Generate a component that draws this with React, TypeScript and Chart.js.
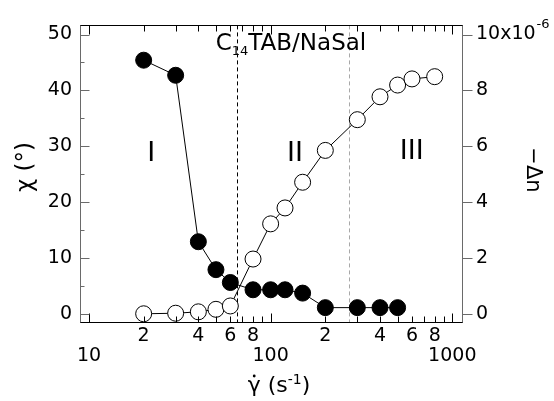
import React, { useEffect, useRef } from 'react';
import { Chart, registerables } from 'chart.js';

Chart.register(...registerables);

// ---- data ----
const chiRates = [20, 30, 40, 50, 60, 80, 100, 120, 150, 200, 300, 400, 500];
const chiValues = [45.4, 42.7, 12.9, 7.9, 5.6, 4.3, 4.3, 4.3, 3.7, 1.1, 1.1, 1.1, 1.1];
const dnRates = [20, 30, 40, 50, 60, 80, 100, 120, 150, 200, 300, 400, 500, 600, 800];
const dnValues = [0.0, 0.02, 0.07, 0.16, 0.28, 1.96, 3.22, 3.79, 4.71, 5.85, 6.95, 7.77, 8.19, 8.41, 8.49]; // x 1e-6

const xTickValues = [10, 20, 30, 40, 50, 60, 70, 80, 90, 100, 200, 300, 400, 500, 600, 700, 800, 900, 1000];
const xMinorLabelDigits = [2, 4, 6, 8];
const leftTickValues = [0, 5, 10, 15, 20, 25, 30, 35, 40, 45, 50];
const rightTickValues = [0, 2, 4, 6, 8, 10];
const regionBounds = [65.5, 271];
const regionLabels = ['I', 'II', 'III'];
const regionLabelX = [22, 136, 598];
const regionLabelY = [28.6, 28.6, 28.9];
const titleText = ['C', '14', 'TAB/NaSal'];

const FONT = 'DejaVu Sans';
const AXIS_GRAY = '#6a6a6a';

const isPow10 = (v: number) => Math.abs(Math.log10(v) - Math.round(Math.log10(v))) < 1e-9;

const decor = {
  id: 'decor',
  beforeDatasetsDraw(chart: any) {
    const { ctx, chartArea: a, scales } = chart;
    const x = scales.x;
    ctx.save();
    ctx.lineWidth = 1;
    ctx.setLineDash([4, 3]);
    regionBounds.forEach((v, i) => {
      const px = Math.round(x.getPixelForValue(v)) + 0.5;
      ctx.strokeStyle = i === 0 ? '#000' : '#a8a8a8';
      ctx.beginPath();
      ctx.moveTo(px, a.top);
      ctx.lineTo(px, a.bottom);
      ctx.stroke();
    });
    ctx.restore();
  },
  afterDraw(chart: any) {
    const { ctx, chartArea: a, scales } = chart;
    const x = scales.x, y = scales.y, y2 = scales.y2;
    ctx.save();
    ctx.lineWidth = 1;
    ctx.setLineDash([]);
    const top = Math.round(a.top) + 0.5;
    const bot = Math.round(a.bottom) - 0.5;
    const left = Math.round(a.left) + 0.5;
    const right = Math.round(a.right) + 0.5;

    // spines
    ctx.strokeStyle = '#000';
    ctx.beginPath();
    ctx.moveTo(left - 0.5, top); ctx.lineTo(right + 0.5, top);
    ctx.moveTo(left - 0.5, bot); ctx.lineTo(right + 0.5, bot);
    ctx.stroke();
    ctx.strokeStyle = AXIS_GRAY;
    ctx.beginPath();
    ctx.moveTo(left, top); ctx.lineTo(left, bot);
    ctx.moveTo(right, top); ctx.lineTo(right, bot);
    ctx.stroke();

    // x ticks (bottom + mirrored top, inward)
    ctx.strokeStyle = '#000';
    ctx.beginPath();
    x.ticks.forEach((t: any) => {
      const px = Math.round(x.getPixelForValue(t.value)) + 0.5;
      const len = isPow10(t.value) ? 9 : 6;
      ctx.moveTo(px, bot); ctx.lineTo(px, bot - len);
      ctx.moveTo(px, top); ctx.lineTo(px, top + len);
    });
    ctx.stroke();

    // left ticks (inward)
    ctx.strokeStyle = AXIS_GRAY;
    ctx.beginPath();
    y.ticks.forEach((t: any) => {
      const py = Math.round(y.getPixelForValue(t.value)) + 0.5;
      const len = t.value % 10 === 0 ? 9 : 4;
      ctx.moveTo(left, py); ctx.lineTo(left + len, py);
    });
    // right ticks (outward)
    y2.ticks.forEach((t: any) => {
      const py = Math.round(y2.getPixelForValue(t.value)) + 0.5;
      ctx.moveTo(right, py); ctx.lineTo(right + 10, py);
    });
    ctx.stroke();

    ctx.fillStyle = '#000';
    // superscript on right top label
    ctx.font = `19px ${FONT}`;
    const w10 = ctx.measureText('10x10').width;
    const pyTop = y2.getPixelForValue(10);
    ctx.font = `13px ${FONT}`;
    ctx.textAlign = 'left';
    ctx.textBaseline = 'middle';
    ctx.fillText('-6', y2.left + 14 + w10 + 1, pyTop - 10);

    // region labels
    ctx.font = `27px ${FONT}`;
    ctx.textAlign = 'center';
    ctx.textBaseline = 'middle';
    regionLabels.forEach((s, i) => {
      ctx.fillText(s, x.getPixelForValue(regionLabelX[i]), y.getPixelForValue(regionLabelY[i]));
    });

    // title C14TAB/NaSal
    ctx.textAlign = 'left';
    ctx.textBaseline = 'alphabetic';
    ctx.font = `23px ${FONT}`;
    const wC = ctx.measureText(titleText[0]).width;
    const wRest = ctx.measureText(titleText[2]).width;
    ctx.font = `13px ${FONT}`;
    const wSub = ctx.measureText(titleText[1]).width;
    let tx = 291 - (wC + wSub + wRest) / 2;
    ctx.font = `23px ${FONT}`;
    ctx.fillText(titleText[0], tx, 49.5);
    tx += wC;
    ctx.font = `13px ${FONT}`;
    ctx.fillText(titleText[1], tx, 55);
    tx += wSub;
    ctx.font = `23px ${FONT}`;
    ctx.fillText(titleText[2], tx, 49.5);

    // bottom axis title: gamma-dot (s^-1)
    ctx.font = `22px ${FONT}`;
    const wG = ctx.measureText('\u03b3').width;
    const wS = ctx.measureText(' (s').width;
    const wP = ctx.measureText(')').width;
    ctx.font = `14px ${FONT}`;
    const wSup = ctx.measureText('-1').width;
    let bx = 279 - (wG + wS + wSup + wP) / 2;
    const base = 392;
    ctx.font = `22px ${FONT}`;
    ctx.fillText('\u03b3', bx, base);
    ctx.beginPath();
    ctx.arc(bx + wG / 2, base - 16, 1.4, 0, Math.PI * 2);
    ctx.fill();
    bx += wG;
    ctx.fillText(' (s', bx, base);
    bx += wS;
    ctx.font = `14px ${FONT}`;
    ctx.fillText('-1', bx, base - 8);
    bx += wSup;
    ctx.font = `22px ${FONT}`;
    ctx.fillText(')', bx, base);

    // left axis title
    ctx.save();
    ctx.translate(26, 167);
    ctx.rotate(-Math.PI / 2);
    ctx.font = `23px ${FONT}`;
    ctx.textAlign = 'center';
    ctx.textBaseline = 'middle';
    ctx.fillText('\u03c7 (\u00b0)', 0, 0);
    ctx.restore();

    // right axis title
    ctx.save();
    ctx.translate(532, 170);
    ctx.rotate(Math.PI / 2);
    ctx.font = `21px ${FONT}`;
    ctx.textAlign = 'center';
    ctx.textBaseline = 'middle';
    ctx.fillText('\u2212\u0394n', 0, 0);
    ctx.restore();

    ctx.restore();
  },
};

export default function App() {
  const ref = useRef<HTMLCanvasElement | null>(null);
  useEffect(() => {
    if (!ref.current) return;
    const chiPts = chiRates.map((r, i) => ({ x: r, y: chiValues[i] }));
    const dnPts = dnRates.map((r, i) => ({ x: r, y: dnValues[i] }));
    const chart = new Chart(ref.current, {
      type: 'scatter',
      data: {
        datasets: [
          {
            label: 'chi',
            data: chiPts,
            yAxisID: 'y',
            showLine: true,
            borderColor: '#000',
            borderWidth: 1,
            pointRadius: 8,
            pointBackgroundColor: '#000',
            pointBorderColor: '#000',
            pointBorderWidth: 1,
          },
          {
            label: 'dn',
            data: dnPts,
            yAxisID: 'y2',
            showLine: true,
            borderColor: '#000',
            borderWidth: 1,
            pointRadius: 8,
            pointBackgroundColor: '#fff',
            pointBorderColor: '#000',
            pointBorderWidth: 1,
          },
          {
            label: 'dn-center',
            data: dnPts,
            yAxisID: 'y2',
            showLine: false,
            pointRadius: 0.7,
            pointBorderWidth: 0,
            pointBackgroundColor: '#777',
          },
        ],
      } as any,
      options: {
        responsive: false,
        animation: false,
        layout: { padding: { top: 22, left: 0, right: 0, bottom: 0 } },
        plugins: { legend: { display: false }, tooltip: { enabled: false } },
        scales: {
          x: {
            type: 'logarithmic',
            position: 'bottom',
            min: 8.924,
            max: 1131,
            grid: { display: false, drawTicks: false },
            border: { display: false },
            afterBuildTicks: (s: any) => {
              s.ticks = xTickValues.map((v) => ({ value: v, major: isPow10(v) }));
            },
            afterFit: (s: any) => {
              s.height = 78;
            },
            ticks: {
              autoSkip: false,
              maxRotation: 0,
              minRotation: 0,
              padding: 3,
              color: '#000',
              font: { family: FONT, size: 19, lineHeight: 1.05 },
              callback: (v: any) => {
                const val = Number(v);
                if (isPow10(val)) return ['', String(Math.round(val))];
                const d = Math.round(val / Math.pow(10, Math.floor(Math.log10(val) + 1e-9)));
                return xMinorLabelDigits.includes(d) ? String(d) : '';
              },
            },
          },
          y: {
            type: 'linear',
            position: 'left',
            min: -1.65,
            max: 51.63,
            grid: { display: false, drawTicks: false },
            border: { display: false },
            afterBuildTicks: (s: any) => {
              s.ticks = leftTickValues.map((v) => ({ value: v }));
            },
            afterFit: (s: any) => {
              s.width = 80;
            },
            ticks: {
              padding: 8,
              color: '#000',
              font: { family: FONT, size: 19 },
              callback: (v: any) => (Number(v) % 10 === 0 ? String(v) : ''),
            },
          },
          y2: {
            type: 'linear',
            position: 'right',
            min: -0.33,
            max: 10.326,
            grid: { display: false, drawTicks: false },
            border: { display: false },
            afterBuildTicks: (s: any) => {
              s.ticks = rightTickValues.map((v) => ({ value: v }));
            },
            afterFit: (s: any) => {
              s.width = 92;
            },
            ticks: {
              padding: 14,
              color: '#000',
              font: { family: FONT, size: 19 },
              callback: (v: any) => (Number(v) === 10 ? '10x10' : String(v)),
            },
          },
        },
      } as any,
      plugins: [decor],
    });
    return () => chart.destroy();
  }, []);
  return (
    <div style={{ position: 'fixed', left: 0, top: 0, width: 554, height: 401, background: '#fff' }}>
      <canvas ref={ref} width={554} height={401} style={{ display: 'block', width: 554, height: 401 }} />
    </div>
  );
}
